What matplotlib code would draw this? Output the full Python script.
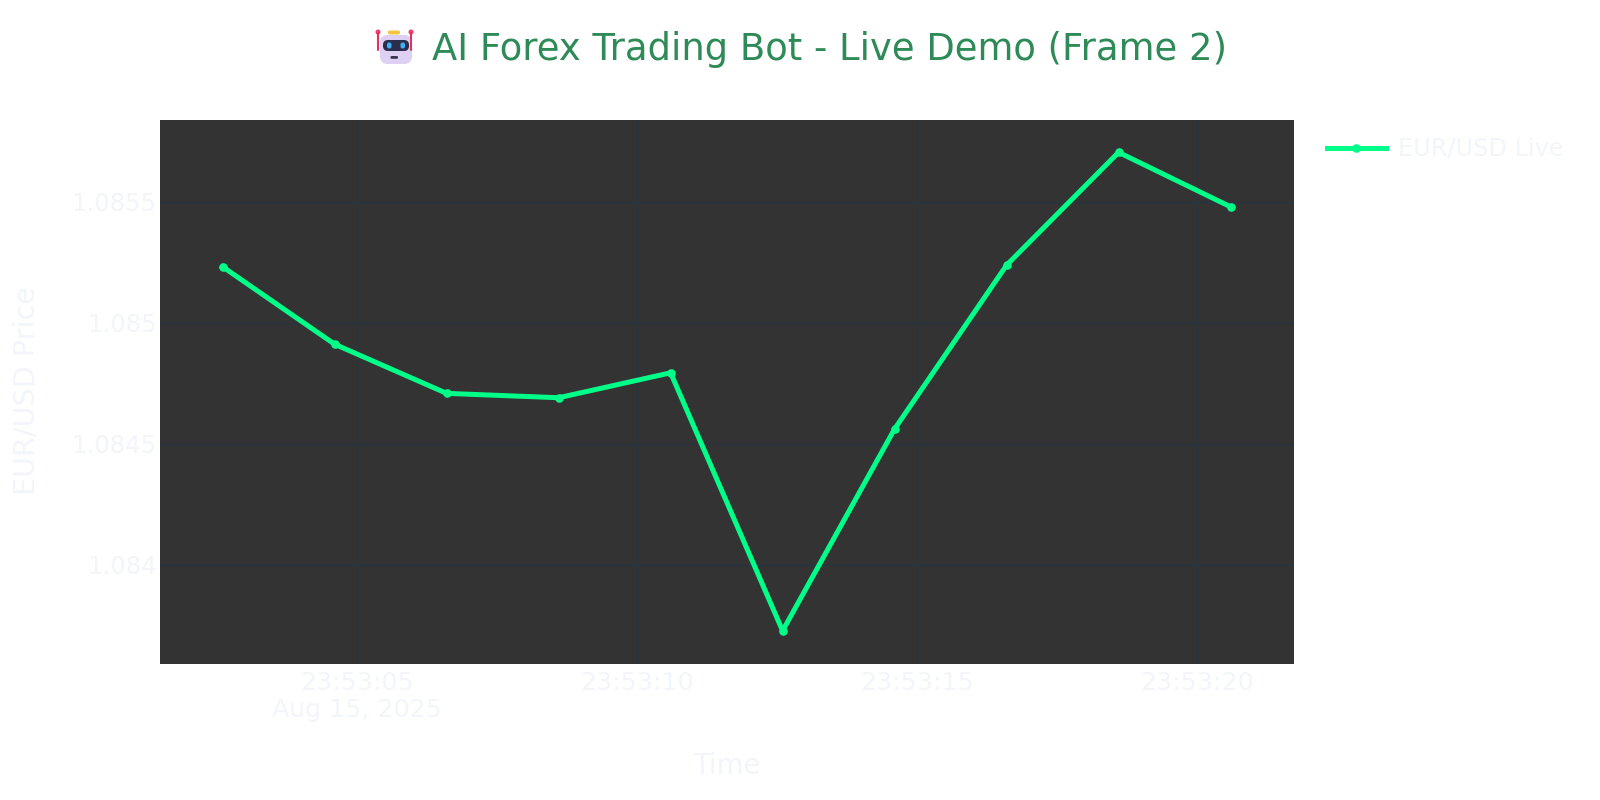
import matplotlib
matplotlib.use("Agg")
import matplotlib.pyplot as plt
from matplotlib.patches import FancyBboxPatch, Circle
import pandas as pd

# ---- data ----
times = ["2025-08-15 23:53:02.607", "2025-08-15 23:53:04.607", "2025-08-15 23:53:06.607",
         "2025-08-15 23:53:08.607", "2025-08-15 23:53:10.607", "2025-08-15 23:53:12.607",
         "2025-08-15 23:53:14.607", "2025-08-15 23:53:16.607", "2025-08-15 23:53:18.607",
         "2025-08-15 23:53:20.607"]
prices = [1.085231, 1.084911, 1.084708, 1.084690, 1.084793, 1.083727,
          1.084561, 1.085238, 1.085704, 1.085479]
y_ticks = [1.084, 1.0845, 1.085, 1.0855]
x_ticks = ["2025-08-15 23:53:05", "2025-08-15 23:53:10",
           "2025-08-15 23:53:15", "2025-08-15 23:53:20"]
series_name = "EUR/USD Live"
title_text = "AI Forex Trading Bot - Live Demo (Frame 2)"
x_title = "Time"
y_title = "EUR/USD Price"
date_label = "Aug 15, 2025"

t = pd.to_datetime(times)

W, H = 1600, 800
plt.rcParams['font.family'] = ['DejaVu Sans']
fig = plt.figure(figsize=(16, 8), dpi=100, facecolor="white")

L, R, T, B = 160, 1294, 120, 663.7
ax = fig.add_axes([L / W, 1 - B / H, (R - L) / W, (B - T) / H])
ax.set_facecolor("#333333")
for s in ax.spines.values():
    s.set_visible(False)

line_color = "#00ff88"
ax.plot(t, prices, color=line_color, lw=3.6, marker="o", ms=6.2,
        markeredgewidth=0, label=series_name, solid_joinstyle="round")

ax.set_xlim(pd.Timestamp("2025-08-15 23:53:01.4875"), pd.Timestamp("2025-08-15 23:53:21.74"))
ax.set_ylim(1.083591, 1.0858376)

ax.set_yticks(y_ticks)
ax.set_yticklabels([f"{v:g}" for v in y_ticks], fontsize=17.6)

xt = pd.to_datetime(x_ticks)
ax.set_xticks(xt)
xlabels = [d.strftime("%H:%M:%S") for d in xt]
xlabels[0] = xlabels[0] + "\n" + date_label
ax.set_xticklabels(xlabels, linespacing=1.15, fontsize=18.2)

tick_col = "#f2f5fa"
ax.tick_params(axis="both", length=0, colors=tick_col)
ax.tick_params(axis="x", pad=5.5)
ax.tick_params(axis="y", pad=2.5)
ax.grid(True, color="#283442", lw=1.0)
ax.set_axisbelow(True)

fig.text(726.5 / W, 1 - 766 / H, x_title, ha="center", va="center",
         fontsize=19.8, color=tick_col)
fig.text(27 / W, 1 - 391 / H, y_title, ha="center", va="center", rotation=90,
         fontsize=20.6, color=tick_col)

leg = ax.legend(loc="center left", bbox_to_anchor=(1.029, 0.9467), frameon=False,
                borderpad=0, borderaxespad=0, handlelength=2.45, handletextpad=0.5,
                fontsize=17.3)
for txt in leg.get_texts():
    txt.set_color(tick_col)

# title
fig.text(432 / W, 1 - 49 / H, title_text, ha="left", va="center",
         fontsize=26.6, color="#2e8b57")

# robot icon (decorative, drawn in pixel units)
iax = fig.add_axes([370 / W, 1 - 70 / H, 50 / W, 45 / H])
iax.set_xlim(370, 420)
iax.set_ylim(70, 25)
iax.axis("off")
iax.plot([378, 378], [33, 50], color="#e8305f", lw=1.5, solid_capstyle="round")
iax.plot([411, 411], [33, 50], color="#e8305f", lw=1.5, solid_capstyle="round")
iax.add_patch(Circle((378, 32), 1.8, color="#f04070"))
iax.add_patch(Circle((411, 32), 1.8, color="#f04070"))
iax.add_patch(FancyBboxPatch((388, 30.5), 12, 4, boxstyle="round,pad=0,rounding_size=1.5",
                             fc="#f5c542", ec="none"))
iax.add_patch(FancyBboxPatch((380, 35), 32, 29, boxstyle="round,pad=0,rounding_size=8",
                             fc="#ddd0f2", ec="none"))
iax.add_patch(FancyBboxPatch((383, 40), 26, 11, boxstyle="round,pad=0,rounding_size=5",
                             fc="#2b2d4a", ec="none"))
iax.add_patch(FancyBboxPatch((387, 42.5), 4.5, 6, boxstyle="round,pad=0,rounding_size=2",
                             fc="#3fb0f5", ec="none"))
iax.add_patch(FancyBboxPatch((400.5, 42.5), 4.5, 6, boxstyle="round,pad=0,rounding_size=2",
                             fc="#3fb0f5", ec="none"))
iax.add_patch(FancyBboxPatch((390.5, 56), 7.5, 2.8, boxstyle="round,pad=0,rounding_size=1.2",
                             fc="#3a3550", ec="none"))

fig.savefig("out.png", dpi=100, facecolor="white")
